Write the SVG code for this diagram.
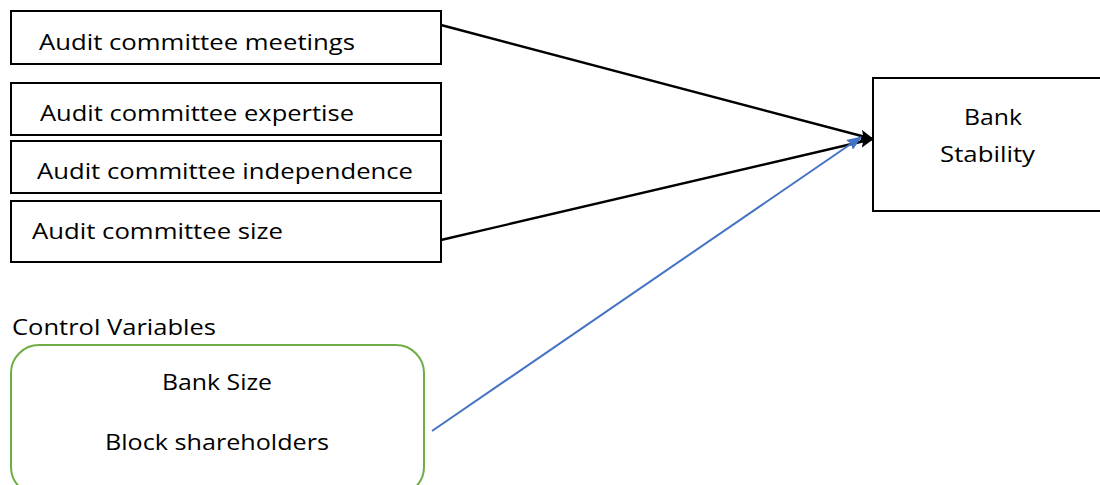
<svg xmlns="http://www.w3.org/2000/svg" width="1100" height="485" viewBox="0 0 1100 485">
<style>
.box{fill:#fff;stroke:#000;stroke-width:2}
.t{font-family:"Open Sans","Liberation Sans",Arial,sans-serif;font-size:22.5px;fill:#000}
</style>
<defs>
<marker id="ab" markerWidth="14" markerHeight="12" refX="13" refY="6" orient="auto" markerUnits="userSpaceOnUse">
<path d="M0,0 L14,6 L0,12 L3,6 Z" fill="#000"/>
</marker>
<marker id="abl" markerWidth="15" markerHeight="12" refX="14" refY="6" orient="auto" markerUnits="userSpaceOnUse">
<path d="M0,0 L15,6 L0,12 L2,6 Z" fill="#4472C4"/>
</marker>
</defs>
<rect width="1100" height="485" fill="#fff"/>
<g id="connectors">
<line x1="441" y1="25" x2="873" y2="139" stroke="#000" stroke-width="2.4" marker-end="url(#ab)"/>
<line x1="441" y1="240" x2="873" y2="139" stroke="#000" stroke-width="2.4" marker-end="url(#ab)"/>
<line x1="432" y1="431" x2="861" y2="137" stroke="#4472C4" stroke-width="2" marker-end="url(#abl)"/>
</g>
<g id="meetings">
<rect class="box" x="11" y="11" width="430" height="53"/>
<text class="t" x="39" y="50" textLength="316" lengthAdjust="spacingAndGlyphs">Audit committee meetings</text>
</g>
<g id="expertise">
<rect class="box" x="11" y="83" width="430" height="52"/>
<text class="t" x="40" y="121" textLength="314" lengthAdjust="spacingAndGlyphs">Audit committee expertise</text>
</g>
<g id="independence">
<rect class="box" x="11" y="141" width="430" height="52"/>
<text class="t" x="37" y="179" textLength="376" lengthAdjust="spacingAndGlyphs">Audit committee independence</text>
</g>
<g id="size">
<rect class="box" x="11" y="201" width="430" height="61"/>
<text class="t" x="32" y="239" textLength="251" lengthAdjust="spacingAndGlyphs">Audit committee size</text>
</g>
<g id="stability">
<rect class="box" x="873" y="78" width="240" height="133"/>
<text class="t" x="964" y="125" textLength="58" lengthAdjust="spacingAndGlyphs">Bank</text>
<text class="t" x="940" y="162" textLength="95" lengthAdjust="spacingAndGlyphs">Stability</text>
</g>
<g id="controls">
<text class="t" x="12" y="335" textLength="204" lengthAdjust="spacingAndGlyphs">Control Variables</text>
<rect x="11" y="345" width="413" height="150" rx="28" ry="28" fill="#fff" stroke="#70AD47" stroke-width="2"/>
<text class="t" x="162" y="390" textLength="110" lengthAdjust="spacingAndGlyphs">Bank Size</text>
<text class="t" x="105" y="450" textLength="224" lengthAdjust="spacingAndGlyphs">Block shareholders</text>
</g>
</svg>
